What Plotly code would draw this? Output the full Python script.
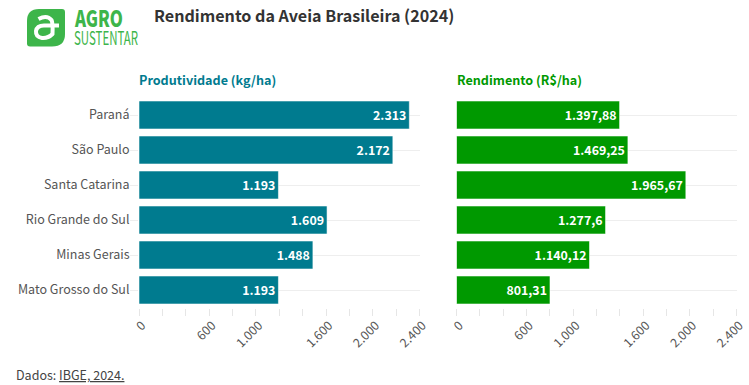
import plotly.graph_objects as go

W, H = 749, 385
states = ["Paraná", "São Paulo", "Santa Catarina", "Rio Grande do Sul", "Minas Gerais", "Mato Grosso do Sul"]
prod = [2313, 2172, 1193, 1609, 1488, 1193]
prod_labels = ["2.313", "2.172", "1.193", "1.609", "1.488", "1.193"]
rend = [1397.88, 1469.25, 1965.67, 1277.6, 1140.12, 801.31]
rend_labels = ["1.397,88", "1.469,25", "1.965,67", "1.277,6", "1.140,12", "801,31"]
tick_vals = [0, 200, 400, 600, 800, 1000, 1200, 1400, 1600, 1800, 2000, 2200, 2400]
tick_text = ["0", "", "", "600", "", "1.000", "", "", "1.600", "", "2.000", "", "2.400"]

FONT = "Noto Sans CJK SC"
TEAL = "#007b8f"
GREEN = "#009900"
px = lambda v: v / W
py = lambda v: 1 - v / H

fig = go.Figure()
for vals, labels, color, xa, ya in [
    (prod, prod_labels, TEAL, "x", "y"),
    (rend, rend_labels, GREEN, "x2", "y2"),
]:
    fig.add_trace(go.Bar(
        x=vals, y=states, orientation="h", xaxis=xa, yaxis=ya,
        marker=dict(color=color, line=dict(color="rgba(255,255,255,0.55)", width=1)),
        text=labels, textposition="inside", insidetextanchor="end", textangle=0,
        textfont=dict(family=FONT, size=12.4, color="white", weight=700),
        cliponaxis=False, showlegend=False, hoverinfo="skip",
    ))

xcommon = dict(range=[0, 2400], tickmode="array", tickvals=tick_vals, ticktext=tick_text,
               tickangle=-45, ticks="outside", ticklen=7, tickcolor="#e6e6e6", tickwidth=1,
               tickfont=dict(family=FONT, size=12.3, color="#555555"),
               ticklabelshift=3, ticklabelstandoff=-2,
               showgrid=False, zeroline=False, showline=False, automargin=False)
ycommon = dict(categoryorder="array", categoryarray=states[::-1], range=[-0.5, 5.5],
               showgrid=True, gridcolor="#eeeeee", gridwidth=1, zeroline=False, showline=False,
               automargin=False)

plot_top, plot_bot = py(97.5), py(307.5)
fig.update_layout(
    width=W, height=H, autosize=False, margin=dict(l=0, r=0, t=0, b=0, pad=0),
    paper_bgcolor="white", plot_bgcolor="white", bargap=0.2, font=dict(family=FONT),
    xaxis=dict(domain=[px(139), px(419.5)], anchor="y", **xcommon),
    xaxis2=dict(domain=[px(456.5), px(736.5)], anchor="y2", **xcommon),
    yaxis=dict(domain=[plot_bot, plot_top], anchor="x", ticks="outside", ticklen=8, tickcolor="#eeeeee",
               tickfont=dict(family=FONT, size=12.5, color="#555555"), ticklabelstandoff=-2, **ycommon),
    yaxis2=dict(domain=[plot_bot, plot_top], anchor="x2", showticklabels=False, ticks="", **ycommon),
)

def note(x, y, text, size, color, **font):
    fig.add_annotation(xref="paper", yref="paper", x=px(x), y=py(y), text=text, showarrow=False,
                       xanchor="left", yanchor="middle", align="left", borderpad=0,
                       font=dict(family=FONT, size=size, color=color, **font))

note(153, 15, "<b>Rendimento da Aveia Brasileira (2024)</b>", 16.1, "#333333")
note(138, 79.5, "<b>Produtividade (kg/ha)</b>", 12.6, TEAL)
note(456, 79.5, "<b>Rendimento (R$/ha)</b>", 12.6, GREEN)
note(15, 374, "Dados: <u>IBGE, 2024.</u>", 12.5, "#444444")
note(73, 17, "AGRO", 23, "#3db54a", weight=900)
note(73, 37, "SUSTENTAR", 18.5, "#3db54a")

# logo: rounded leaf with an "a" glyph
def pt(x, y):
    return f"{px(x):.5f},{py(y):.5f}"
leaf = (f"M {pt(39,9)} L {pt(62,9)} Q {pt(65,9)} {pt(65,12)} L {pt(65,34)} Q {pt(65,46.5)} {pt(52,46.5)} "
        f"L {pt(30,46.5)} Q {pt(27,46.5)} {pt(27,43.5)} L {pt(27,21)} Q {pt(27,9)} {pt(39,9)} Z")
fig.add_shape(type="path", xref="paper", yref="paper", path=leaf, fillcolor="#3db54a", line=dict(width=0))
a_glyph = (f"M {pt(38.5,19)} Q {pt(47,14.5)} {pt(51.5,20)} Q {pt(53,23)} {pt(52.5,34)} Q {pt(48,38.5)} {pt(42,38)} "
           f"Q {pt(35.5,37)} {pt(36,31)} Q {pt(37,25.5)} {pt(44,25.5)} L {pt(59,25.5)}")
fig.add_shape(type="path", xref="paper", yref="paper", path=a_glyph, line=dict(color="white", width=4))

# The logo wordmark is set in a condensed face: squeeze the real text to its width
post = """
document.body.style.margin='0';
document.documentElement.style.overflow='hidden';
document.querySelectorAll('text').forEach(function(t){
  var s=t.textContent;
  if(s==='AGRO'){t.setAttribute('textLength','48');t.setAttribute('lengthAdjust','spacingAndGlyphs');}
  if(s==='SUSTENTAR'){t.setAttribute('textLength','64');t.setAttribute('lengthAdjust','spacingAndGlyphs');}
});
"""
fig.write_html("out.html", config=dict(displayModeBar=False), post_script=post)
